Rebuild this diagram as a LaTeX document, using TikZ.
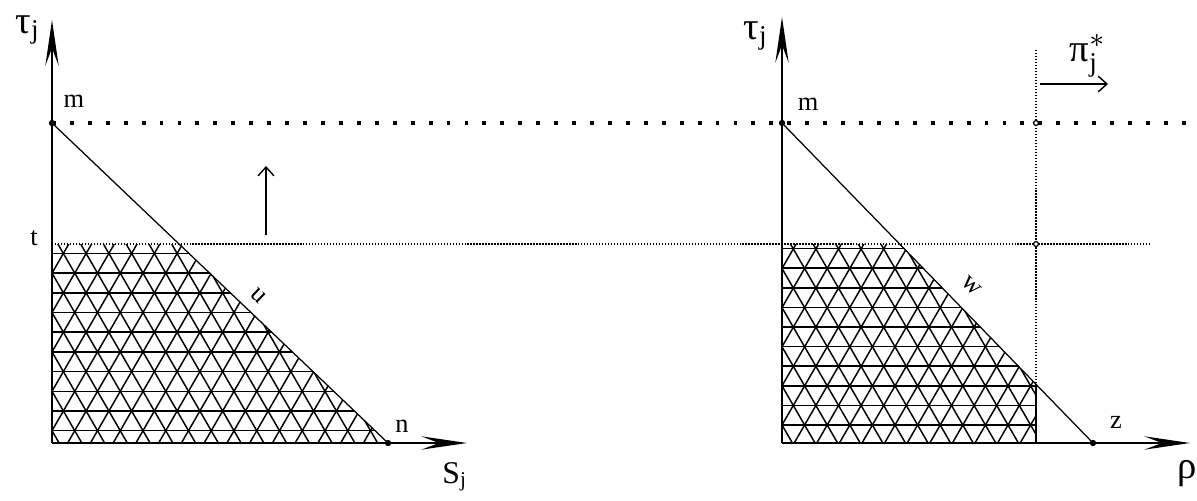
\documentclass[tikz,border=0pt]{standalone}
\usepackage{fontspec}
\setmainfont{Liberation Serif}
\usetikzlibrary{arrows.meta}

\tikzset{
  axis/.style={line width=0.55pt, -{Stealth[length=13pt,width=3.8pt,inset=5pt]}},
  edge/.style={line width=0.35pt},
  hatch/.style={line width=0.42pt},
  bigdash/.style={line width=1pt, dash pattern=on 1.1pt off 4pt},
  finedot/.style={line width=0.7pt, dash pattern=on 0.4pt off 0.45pt},
  smallarrow/.style={line width=0.4pt, -{Straight Barb[length=2.5pt,width=4.5pt]}},
  lbl/.style={font=\fontsize{7.5}{9}\selectfont, inner sep=0pt},
  greek/.style={font=\fontsize{11}{13}\selectfont, inner sep=0pt},
}

\begin{document}
\begin{tikzpicture}[x=0.01cm, y=-0.01cm]

    \useasboundingbox (0,0) rectangle (1197,500);

    % Hatch spacing (row height and side of a triangle)
    \pgfmathsetmacro{\rowh}{19.7}
    \pgfmathsetmacro{\side}{22.75}

    % Points of the left picture
    \coordinate (oL) at (52,443);
    \coordinate (mL) at (52,123);
    \coordinate (tL) at (52,244);
    \coordinate (cL) at (180,244);
    \coordinate (nL) at (388,443);
    \coordinate (yL) at (52,20);
    \coordinate (xL) at (467,443);

    % Points of the right picture
    \coordinate (oR) at (782,443);
    \coordinate (mR) at (782,123);
    \coordinate (tR) at (782,244);
    \coordinate (cR) at (900,244);
    \coordinate (kR) at (1036,384);
    \coordinate (bR) at (1036,443);
    \coordinate (zR) at (1093,443);
    \coordinate (yR) at (782,17);
    \coordinate (xR) at (1190,443);
    \coordinate (pTop) at (1036,50);
    \coordinate (pM) at (1036,123);
    \coordinate (pT) at (1036,244);

    % Ends of the long horizontal lines
    \coordinate (dashEnd) at (1197,123);
    \coordinate (dotEnd) at (1150,244);

    % Hatched region, left
    \begin{scope}
        \clip (tL) -- (cL) -- (nL) -- (oL) -- cycle;
        \foreach \k in {0,...,10} {
            \draw[hatch] (30,{430.7-\k*\rowh}) -- (420,{430.7-\k*\rowh});
        }
        \foreach \k in {-6,...,21} {
            \draw[hatch] ({52+\k*\side-115.5},630.7) -- ({52+\k*\side+115.5},230.7);
            \draw[hatch] ({52+\k*\side+115.5},630.7) -- ({52+\k*\side-115.5},230.7);
        }
    \end{scope}

    % Hatched region, right
    \begin{scope}
        \clip (tR) -- (cR) -- (kR) -- (bR) -- (oR) -- cycle;
        \foreach \k in {0,...,10} {
            \draw[hatch] (760,{425-\k*19.6}) -- (1060,{425-\k*19.6});
        }
        \foreach \k in {-6,...,20} {
            \draw[hatch] ({782+\k*22.6-115.5},625) -- ({782+\k*22.6+115.5},225);
            \draw[hatch] ({782+\k*22.6+115.5},625) -- ({782+\k*22.6-115.5},225);
        }
    \end{scope}

    % Dashed and dotted levels
    \draw[bigdash] (mL) -- (dashEnd);
    \draw[finedot] (tL) -- (dotEnd);
    \draw[finedot] (pTop) -- (bR);
    \draw[line width=0.7pt] (kR) -- (bR);

    % Axes
    \draw[axis] (oL) -- (yL);
    \draw[axis] (oL) -- (xL);
    \draw[axis] (oR) -- (yR);
    \draw[axis] (oR) -- (xR);

    % Slanted lines
    \draw[edge] (mL) -- (nL);
    \draw[edge] (mR) -- (zR);
    \node[lbl, rotate=-44] (uLab) at (258,296) {u};
    \node[lbl, rotate=-44] (wLab) at (971,286) {w};

    % Points
    \foreach \p in {mL, nL, mR, zR} {
        \fill (\p) circle (0.9pt);
    }
    \foreach \p in {pM, pT} {
        \draw[line width=0.35pt, fill=white] (\p) circle (0.7pt);
    }

    % Small arrows
    \coordinate (upA) at (266,235);
    \coordinate (upB) at (266,166);
    \draw[smallarrow] (upA) -- (upB);
    \coordinate (piA) at (1040,84);
    \coordinate (piB) at (1108,84);
    \draw[smallarrow] (piA) -- (piB);

    % Labels
    \node[greek] (tauL) at (28,30) {τ$_{\mathrm{j}}$};
    \node[greek] (tauR) at (756,36) {τ$_{\mathrm{j}}$};
    \node[lbl] (mLab) at (74,101) {m};
    \node[lbl] (mRLab) at (808,104) {m};
    \node[lbl] (tLab) at (34,238) {t};
    \node[lbl] (nLab) at (402,426) {n};
    \node[lbl] (zLab) at (1116,422) {z};
    \node[font=\fontsize{9}{11}\selectfont, inner sep=0pt] (sLab) at (455,477) {S$_{\mathrm{j}}$};
    \node[greek] (rhoLab) at (1187,474) {ρ};
    \node[greek] (piLab) at (1088,56) {π$^{*}_{\mathrm{j}}$};

\end{tikzpicture}
\end{document}
